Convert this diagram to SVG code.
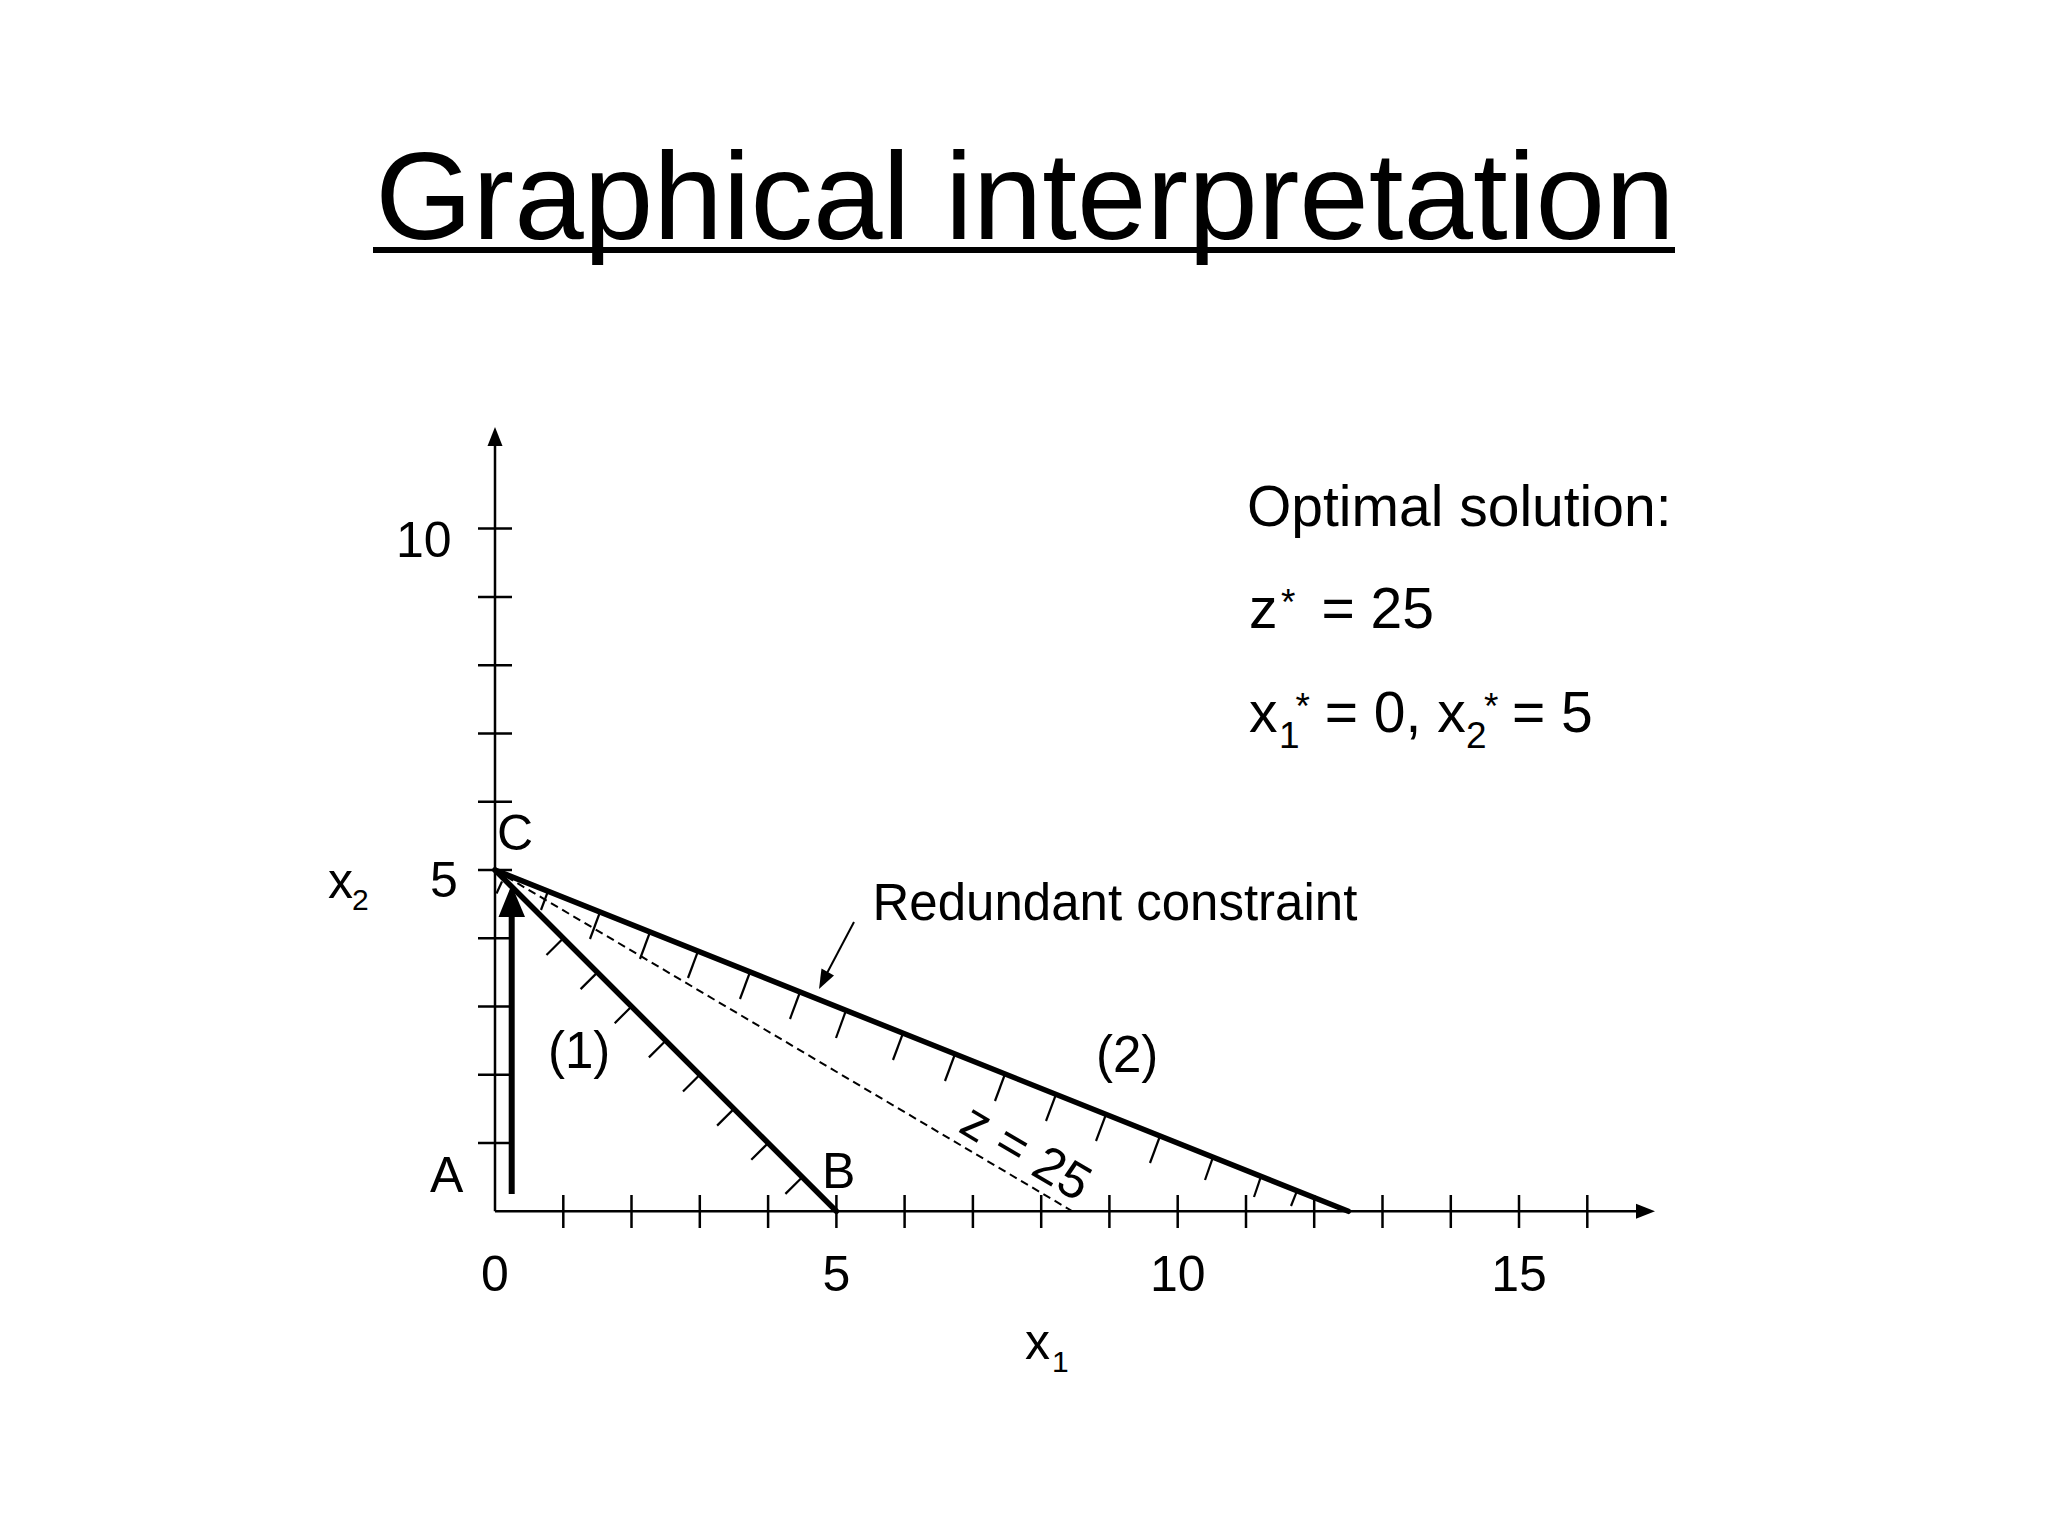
<svg xmlns="http://www.w3.org/2000/svg" width="2048" height="1536" viewBox="0 0 2048 1536">
<style>
text{font-family:"Liberation Sans",Arial,sans-serif;fill:#000}
.lbl{font-size:50px}
.lb2{font-size:51px}
.rt{font-size:57px}
.sm{font-size:37px}
.sub{font-size:30px}
.ax{stroke:#000;stroke-width:2.5;fill:none}
.tk{stroke:#000;stroke-width:2.5}
.cons{stroke:#000;stroke-width:5.5;stroke-linecap:round;fill:none}
.hatch{stroke:#000;stroke-width:2.2}
.dash{stroke:#000;stroke-width:2;stroke-dasharray:8 5;fill:none}
.head{fill:#000;stroke:none}
</style>
<rect width="2048" height="1536" fill="#fff"/>
<g id="title">
<text x="1025" y="239" text-anchor="middle" style="font-size:125px">Graphical interpretation</text>
<rect x="373" y="247" width="1302" height="6" fill="#000"/>
</g>
<g id="axes">
<line class="ax" x1="495" y1="1211.3" x2="495" y2="443"/>
<polygon class="head" points="495,427 487.5,446 502.5,446"/>
<line class="ax" x1="495" y1="1211.3" x2="1638" y2="1211.3"/>
<polygon class="head" points="1655,1211.3 1636,1203.8 1636,1218.8"/>
<g id="yticks">
<line class="tk" x1="478" y1="1143" x2="512" y2="1143"/>
<line class="tk" x1="478" y1="1074.8" x2="512" y2="1074.8"/>
<line class="tk" x1="478" y1="1006.5" x2="512" y2="1006.5"/>
<line class="tk" x1="478" y1="938.2" x2="512" y2="938.2"/>
<line class="tk" x1="478" y1="870" x2="512" y2="870"/>
<line class="tk" x1="478" y1="801.7" x2="512" y2="801.7"/>
<line class="tk" x1="478" y1="733.4" x2="512" y2="733.4"/>
<line class="tk" x1="478" y1="665.2" x2="512" y2="665.2"/>
<line class="tk" x1="478" y1="596.9" x2="512" y2="596.9"/>
<line class="tk" x1="478" y1="528.6" x2="512" y2="528.6"/>
</g>
<g id="xticks">
<line class="tk" x1="563.3" y1="1195" x2="563.3" y2="1228"/>
<line class="tk" x1="631.5" y1="1195" x2="631.5" y2="1228"/>
<line class="tk" x1="699.8" y1="1195" x2="699.8" y2="1228"/>
<line class="tk" x1="768.1" y1="1195" x2="768.1" y2="1228"/>
<line class="tk" x1="836.4" y1="1195" x2="836.4" y2="1228"/>
<line class="tk" x1="904.6" y1="1195" x2="904.6" y2="1228"/>
<line class="tk" x1="972.9" y1="1195" x2="972.9" y2="1228"/>
<line class="tk" x1="1041.2" y1="1195" x2="1041.2" y2="1228"/>
<line class="tk" x1="1109.4" y1="1195" x2="1109.4" y2="1228"/>
<line class="tk" x1="1177.7" y1="1195" x2="1177.7" y2="1228"/>
<line class="tk" x1="1246" y1="1195" x2="1246" y2="1228"/>
<line class="tk" x1="1314.2" y1="1195" x2="1314.2" y2="1228"/>
<line class="tk" x1="1382.5" y1="1195" x2="1382.5" y2="1228"/>
<line class="tk" x1="1450.8" y1="1195" x2="1450.8" y2="1228"/>
<line class="tk" x1="1519" y1="1195" x2="1519" y2="1228"/>
<line class="tk" x1="1587.3" y1="1195" x2="1587.3" y2="1228"/>
</g>
</g>
<g id="axis-labels">
<text class="lbl" x="396" y="557">10</text>
<text class="lbl" x="430" y="897">5</text>
<text class="lbl" x="328" y="898">x<tspan class="sub" x="352" y="910">2</tspan></text>
<text class="lbl" x="495" y="1291" text-anchor="middle">0</text>
<text class="lbl" x="836.4" y="1291" text-anchor="middle">5</text>
<text class="lbl" x="1177.7" y="1291" text-anchor="middle">10</text>
<text class="lbl" x="1519" y="1291" text-anchor="middle">15</text>
<text class="lbl" x="1025" y="1359">x<tspan class="sub" x="1052" y="1372">1</tspan></text>
</g>
<g id="connectors">
<g id="hatch-1">
<line class="hatch" x1="563.3" y1="938.3" x2="546.5" y2="955"/>
<line class="hatch" x1="597.4" y1="972.4" x2="580.6" y2="989.1"/>
<line class="hatch" x1="631.5" y1="1006.5" x2="614.7" y2="1023.2"/>
<line class="hatch" x1="665.7" y1="1040.7" x2="648.9" y2="1057.4"/>
<line class="hatch" x1="699.8" y1="1074.8" x2="683" y2="1091.5"/>
<line class="hatch" x1="733.9" y1="1108.9" x2="717.1" y2="1125.6"/>
<line class="hatch" x1="768.1" y1="1143.1" x2="751.3" y2="1159.8"/>
<line class="hatch" x1="802.2" y1="1177.2" x2="785.4" y2="1193.9"/>
<line class="hatch" x1="502" y1="881.5" x2="496.5" y2="893.5"/>
</g>
<g id="hatch-2">
<line class="hatch" x1="548" y1="891.2" x2="541" y2="910"/>
<line class="hatch" x1="600" y1="912" x2="590" y2="939"/>
<line class="hatch" x1="650" y1="932" x2="640" y2="959"/>
<line class="hatch" x1="698" y1="951.2" x2="688" y2="978"/>
<line class="hatch" x1="750" y1="972" x2="740" y2="999"/>
<line class="hatch" x1="800" y1="992" x2="790" y2="1019"/>
<line class="hatch" x1="846" y1="1010.4" x2="836" y2="1038"/>
<line class="hatch" x1="903" y1="1033.2" x2="893" y2="1060"/>
<line class="hatch" x1="955" y1="1054" x2="945" y2="1081"/>
<line class="hatch" x1="1005" y1="1074" x2="995" y2="1101"/>
<line class="hatch" x1="1056" y1="1094.4" x2="1046" y2="1121"/>
<line class="hatch" x1="1106" y1="1114.4" x2="1096" y2="1141"/>
<line class="hatch" x1="1160" y1="1136" x2="1150" y2="1163"/>
<line class="hatch" x1="1213" y1="1157.2" x2="1205" y2="1180"/>
<line class="hatch" x1="1261" y1="1176.4" x2="1254" y2="1197"/>
<line class="hatch" x1="1297" y1="1190.8" x2="1291" y2="1206"/>
</g>
<line id="zline" class="dash" x1="495" y1="870" x2="1072" y2="1211"/>
<line id="constraint-1" class="cons" x1="495" y1="870" x2="836.4" y2="1211.3"/>
<line id="constraint-2" class="cons" x1="495" y1="870" x2="1348.4" y2="1211.3"/>
<g id="direction-arrow">
<line x1="511.7" y1="1194" x2="511.7" y2="914" stroke="#000" stroke-width="6"/>
<polygon class="head" points="511.5,885 498.5,917 525,917"/>
</g>
<g id="redundant-arrow">
<line x1="854" y1="922" x2="826" y2="975" stroke="#000" stroke-width="2"/>
<polygon class="head" points="819,989 834,975.5 821.5,968.5"/>
</g>
</g>
<g id="node-C"><text class="lbl" x="497" y="850">C</text></g>
<g id="node-A"><text class="lbl" x="430" y="1192">A</text></g>
<g id="node-B"><text class="lbl" x="822" y="1188">B</text></g>
<g id="label-1"><text class="lb2" x="548" y="1068">(1)</text></g>
<g id="label-2"><text class="lb2" x="1096" y="1072">(2)</text></g>
<g id="label-redundant"><text class="lb2" x="872.5" y="920">Redundant constraint</text></g>
<g id="label-z"><text class="lb2" transform="translate(957,1131) rotate(30.6)">z = 25</text></g>
<g id="solution">
<text class="rt" x="1247" y="526">Optimal solution:</text>
<text class="rt" x="1249" y="628">z<tspan class="sm" x="1281" y="615">*</tspan><tspan x="1321.5" y="628">= 25</tspan></text>
<text class="rt" x="1249" y="732">x<tspan class="sm" x="1279" y="748">1</tspan><tspan class="sm" x="1295.5" y="719">*</tspan><tspan x="1324.7" y="732">= 0, x</tspan><tspan class="sm" x="1466" y="748">2</tspan><tspan class="sm" x="1484" y="719">*</tspan><tspan x="1512" y="732">= 5</tspan></text>
</g>
</svg>
